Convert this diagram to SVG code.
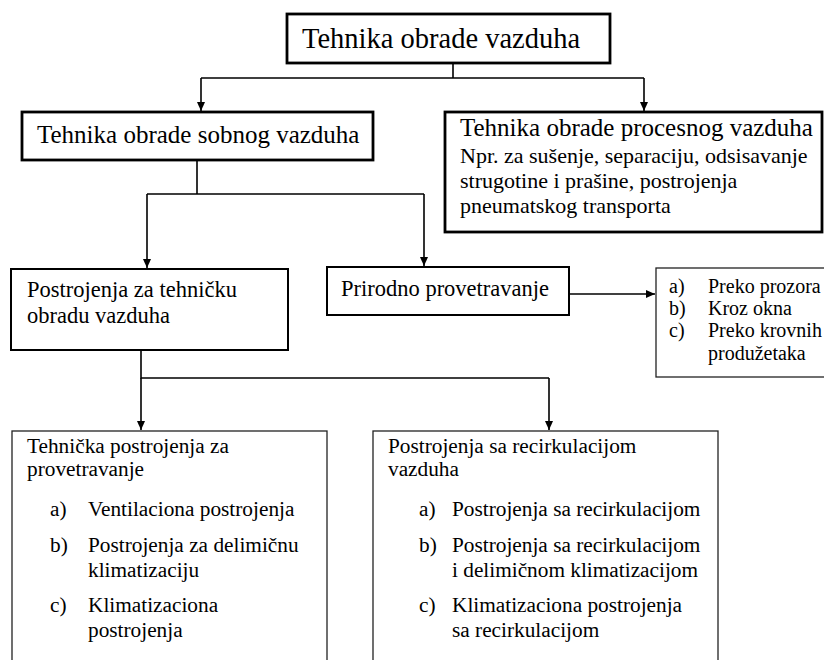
<svg xmlns="http://www.w3.org/2000/svg" width="824" height="660" viewBox="0 0 824 660">
<style>
  text { font-family: "Liberation Serif", "Times New Roman", serif; fill: #000; }
  .thick { fill: #fff; stroke: #000; stroke-width: 2.8; }
  .mid { fill: #fff; stroke: #000; stroke-width: 2; }
  .thin { fill: #fff; stroke: #222; stroke-width: 1.3; }
  .conn { fill: none; stroke: #000; stroke-width: 1.6; }
  .t28 { font-size: 28.5px; }
  .t25 { font-size: 25px; }
  .t22 { font-size: 22px; }
  .t225 { font-size: 22.5px; }
  .t21 { font-size: 21.3px; }
  .t20 { font-size: 20px; }
</style>
<defs>
  <marker id="arr" markerUnits="userSpaceOnUse" markerWidth="10" markerHeight="10" refX="9" refY="4" orient="auto">
    <path d="M0,0 L9,4 L0,8 Z" fill="#000"/>
  </marker>
</defs>
<rect width="824" height="660" fill="#fff"/>

<g id="connectors">
  <path class="conn" d="M453,63 V78 M201,78 H644"/>
  <path class="conn" d="M201,78 V111" marker-end="url(#arr)"/>
  <path class="conn" d="M644,78 V111" marker-end="url(#arr)"/>
  <path class="conn" d="M197,160 V194 M147,194 H424"/>
  <path class="conn" d="M147,194 V268" marker-end="url(#arr)"/>
  <path class="conn" d="M424,194 V266" marker-end="url(#arr)"/>
  <path class="conn" d="M569,294 H655" marker-end="url(#arr)"/>
  <path class="conn" d="M141,350 V378 H549"/>
  <path class="conn" d="M141,378 V430" marker-end="url(#arr)"/>
  <path class="conn" d="M549,378 V430" marker-end="url(#arr)"/>
</g>

<g id="n-root">
  <rect class="thick" x="287" y="14" width="323" height="49"/>
  <text class="t28" x="302" y="48">Tehnika obrade vazduha</text>
</g>

<g id="n-sobni">
  <rect class="thick" x="22" y="112" width="351" height="48"/>
  <text class="t25" x="37" y="143">Tehnika obrade sobnog vazduha</text>
</g>

<g id="n-procesni">
  <rect class="thick" x="445" y="112" width="377" height="120"/>
  <text class="t25" x="460" y="136">Tehnika obrade procesnog vazduha</text>
  <text class="t22" x="460" y="163">Npr. za sušenje, separaciju, odsisavanje</text>
  <text class="t22" x="460" y="188">strugotine i prašine, postrojenja</text>
  <text class="t22" x="460" y="213">pneumatskog transporta</text>
</g>

<g id="n-tehnicka">
  <rect class="mid" x="11" y="269" width="277" height="81"/>
  <text class="t225" x="27" y="297">Postrojenja za tehničku</text>
  <text class="t225" x="27" y="323">obradu vazduha</text>
</g>

<g id="n-prirodno">
  <rect class="mid" x="327" y="267" width="242" height="48"/>
  <text class="t225" x="341" y="296">Prirodno provetravanje</text>
</g>

<g id="n-nacini">
  <rect class="thin" x="656" y="268" width="175" height="109"/>
  <text class="t20" x="669" y="293">a)</text>
  <text class="t20" x="708" y="293">Preko prozora</text>
  <text class="t20" x="669" y="315">b)</text>
  <text class="t20" x="708" y="315">Kroz okna</text>
  <text class="t20" x="669" y="337">c)</text>
  <text class="t20" x="708" y="337">Preko krovnih</text>
  <text class="t20" x="708" y="360">produžetaka</text>
</g>

<g id="n-provetravanje">
  <rect class="thin" x="12" y="431" width="315" height="240"/>
  <text class="t21" x="27" y="453">Tehnička postrojenja za</text>
  <text class="t21" x="27" y="476">provetravanje</text>
  <text class="t21" x="50" y="516">a)</text>
  <text class="t21" x="88" y="516">Ventilaciona postrojenja</text>
  <text class="t21" x="50" y="552">b)</text>
  <text class="t21" x="88" y="552">Postrojenja za delimičnu</text>
  <text class="t21" x="88" y="577">klimatizaciju</text>
  <text class="t21" x="50" y="612">c)</text>
  <text class="t21" x="88" y="612">Klimatizaciona</text>
  <text class="t21" x="88" y="637">postrojenja</text>
</g>

<g id="n-recirkulacija">
  <rect class="thin" x="373" y="431" width="345" height="240"/>
  <text class="t21" x="388" y="453">Postrojenja sa recirkulacijom</text>
  <text class="t21" x="388" y="476">vazduha</text>
  <text class="t21" x="419" y="516">a)</text>
  <text class="t21" x="452" y="516">Postrojenja sa recirkulacijom</text>
  <text class="t21" x="419" y="552">b)</text>
  <text class="t21" x="452" y="552">Postrojenja sa recirkulacijom</text>
  <text class="t21" x="452" y="577">i delimičnom klimatizacijom</text>
  <text class="t21" x="419" y="612">c)</text>
  <text class="t21" x="452" y="612">Klimatizaciona postrojenja</text>
  <text class="t21" x="452" y="637">sa recirkulacijom</text>
</g>
</svg>
